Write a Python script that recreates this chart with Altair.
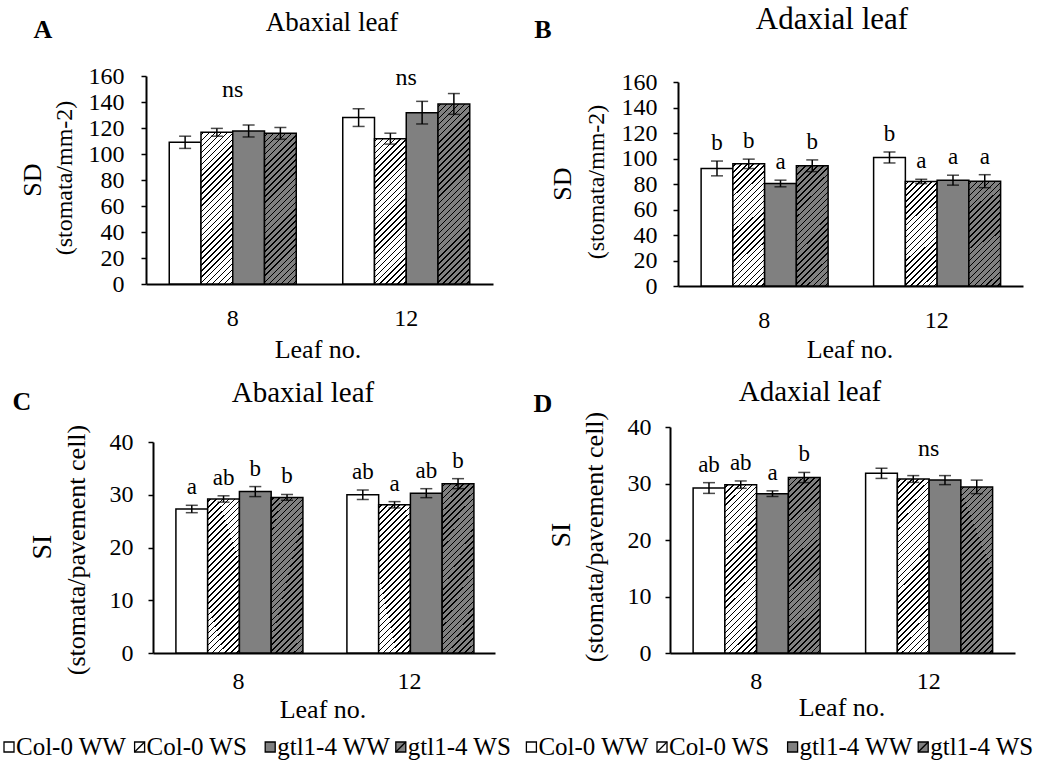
import altair as alt
import pandas as pd

FONT = "Liberation Serif"

leaves = ["8", "12"]
genos = ["Col-0 WW", "Col-0 WS", "gtl1-4 WW", "gtl1-4 WS"]

# values ordered: leaf 8 (4 genotypes), leaf 12 (4 genotypes)
A_mean = [109.0, 116.7, 117.7, 115.9, 128.0, 111.8, 131.8, 138.5]
A_err = [4.7, 3.0, 4.6, 4.5, 6.8, 4.2, 8.7, 8.0]
A_letters = ["", "", "", "", "", "", "", ""]
A_ns_leaf = ["8", "12"]
A_ns_y = [144.0, 153.0]

B_mean = [92.2, 95.8, 80.4, 94.3, 100.8, 82.0, 83.0, 82.2]
B_err = [5.8, 3.7, 2.6, 4.6, 4.3, 1.7, 3.9, 5.1]
B_letters = ["b", "b", "a", "b", "b", "a", "a", "a"]
B_ns_leaf = []
B_ns_y = []

C_mean = [27.3, 29.2, 30.6, 29.5, 30.0, 28.1, 30.3, 32.1]
C_err = [0.7, 0.6, 0.95, 0.55, 0.9, 0.6, 0.85, 0.95]
C_letters = ["a", "ab", "b", "b", "ab", "a", "ab", "b"]
C_ns_leaf = []
C_ns_y = []

D_mean = [29.2, 29.8, 28.2, 31.06, 31.8, 30.8, 30.6, 29.4]
D_err = [0.95, 0.65, 0.5, 0.9, 0.9, 0.6, 0.8, 1.2]
D_letters = ["ab", "ab", "a", "b", "", "", "", ""]
D_ns_leaf = ["12"]
D_ns_y = [34.8]

legend_labels = genos + genos

GRAY = "#808080"
PAD_IN = 0.268


def hatch(w, h, bg, fg, period=6.0, thick=1.5):
    k = (w + h) / (w * w + h * h)
    n = max(1, int(round((w + h) / period)))
    t = thick / period
    stops = [{"offset": 0.0, "color": bg}]
    for j in range(n):
        a = round((j + 0.5 - t / 2) / n, 5)
        b = round((j + 0.5 + t / 2) / n, 5)
        stops += [
            {"offset": a, "color": bg},
            {"offset": a, "color": fg},
            {"offset": b, "color": fg},
            {"offset": b, "color": bg},
        ]
    stops.append({"offset": 1.0, "color": bg})
    return {
        "gradient": "linear",
        "x1": 0, "y1": 0,
        "x2": round(k * w, 5), "y2": round(k * h, 5),
        "stops": stops,
    }


def txt(text, x, y, size, bold=False, angle=0, baseline="alphabetic"):
    kw = dict(fontSize=size, font=FONT, color="black", align="center", baseline=baseline)
    if bold:
        kw["fontWeight"] = "bold"
    if angle:
        kw["angle"] = angle
    return alt.Chart(alt.Data(values=[{}])).mark_text(**kw).encode(
        x=alt.value(x), y=alt.value(y), text=alt.value(text)
    )


def panel(mean, err, letters, ns_leaf, ns_y, ymax, ystep, W, H, ann, xpad, ypad, ox=0, oy=0):
    rows = []
    for i, lf in enumerate(leaves):
        for j, g in enumerate(genos):
            idx = i * 4 + j
            rows.append({"leaf": lf, "geno": g, "mean": mean[idx],
                         "err": err[idx], "letter": letters[idx]})
    df = pd.DataFrame(rows)

    bar_w = (W / 2.0) * (1 - PAD_IN) / 4.0
    conds = []
    for r in rows:
        hpx = r["mean"] / ymax * H
        test = "datum.leaf === '%s' && datum.geno === '%s'" % (r["leaf"], r["geno"])
        if r["geno"] == "Col-0 WS":
            conds.append({"test": test, "value": hatch(bar_w, hpx, "#ffffff", "#000000")})
        elif r["geno"] == "gtl1-4 WS":
            conds.append({"test": test, "value": hatch(bar_w, hpx, GRAY, "#000000")})
    conds.append({"test": "datum.geno === 'gtl1-4 WW'", "value": GRAY})

    xs = alt.Scale(paddingInner=PAD_IN, paddingOuter=PAD_IN / 2, range=[ox, ox + W])
    xaxis = alt.Axis(title=None, labelAngle=0, ticks=False, labelPadding=xpad,
                     labelBaseline="alphabetic", labelFont=FONT, labelFontSize=24,
                     labelColor="black", domainColor="black", domainWidth=2, grid=False)
    ys = alt.Scale(domain=[0, ymax], nice=False, zero=True, range=[oy + H, oy])
    yaxis = alt.Axis(title=None, values=list(range(0, ymax + 1, ystep)), tickSize=5,
                     tickWidth=1.5, tickColor="black", labelPadding=ypad, labelFont=FONT,
                     labelFontSize=24, labelColor="black", domainColor="black",
                     domainWidth=2, grid=False, offset=-ox)
    x_enc = alt.X("leaf:N", sort=leaves, scale=xs, axis=xaxis)
    xo_enc = alt.XOffset("geno:N", sort=genos, scale=alt.Scale(paddingInner=0, paddingOuter=0))

    base = alt.Chart(df).transform_calculate(
        lo="datum.mean - datum.err", hi="datum.mean + datum.err"
    )
    bars = base.mark_bar(stroke="black", strokeWidth=1.5).encode(
        x=x_enc, xOffset=xo_enc,
        y=alt.Y("mean:Q", scale=ys, axis=yaxis),
        fill={"condition": conds, "value": "#ffffff"},
    )
    rule = base.mark_rule(color="black", strokeWidth=1.5).encode(
        x=x_enc, xOffset=xo_enc,
        y=alt.Y("lo:Q", scale=ys, axis=yaxis), y2="hi:Q",
    )
    cap_lo = base.mark_tick(color="black", thickness=1.5, size=12, orient="horizontal").encode(
        x=x_enc, xOffset=xo_enc, y=alt.Y("lo:Q", scale=ys, axis=yaxis))
    cap_hi = base.mark_tick(color="black", thickness=1.5, size=12, orient="horizontal").encode(
        x=x_enc, xOffset=xo_enc, y=alt.Y("hi:Q", scale=ys, axis=yaxis))
    lab = base.mark_text(font=FONT, fontSize=23, color="black", baseline="alphabetic",
                         dy=-11).encode(
        x=x_enc, xOffset=xo_enc, y=alt.Y("hi:Q", scale=ys, axis=yaxis), text="letter:N")
    layers = [bars, rule, cap_lo, cap_hi, lab]
    if ns_leaf:
        nsdf = pd.DataFrame({"leaf": ns_leaf, "y": ns_y, "t": ["ns"] * len(ns_leaf)})
        layers.append(alt.Chart(nsdf).mark_text(font=FONT, fontSize=24, color="black",
                                                baseline="alphabetic").encode(
            x=x_enc, y=alt.Y("y:Q", scale=ys, axis=yaxis), text="t:N"))
    for a in ann:
        a = list(a)
        a[1] = a[1] + ox
        a[2] = a[2] + oy
        layers.append(txt(*a))
    return alt.layer(*layers).properties(width=W + ox, height=H + oy)


A = panel(A_mean, A_err, A_letters, A_ns_leaf, A_ns_y, 160, 20, 347, 208, [
    ("A", -103, -38, 26, True),
    ("Abaxial leaf", 186, -45, 27),
    ("SD", -113, 104, 26, False, 270, "middle"),
    ("(stomata/mm-2)", -81, 102, 24, False, 270, "middle"),
    ("Leaf no.", 172, 208 + 74, 26),
], 41, 17)

B = panel(B_mean, B_err, B_letters, B_ns_leaf, B_ns_y, 160, 20, 345, 204, [
    ("B", -135, -44, 26, True),
    ("Adaxial leaf", 154, -53, 31),
    ("SD", -115, 102, 26, False, 270, "middle"),
    ("(stomata/mm-2)", -81, 100, 24, False, 270, "middle"),
    ("Leaf no.", 172, 204 + 72, 26),
], 41, 16, ox=8, oy=6)

C = panel(C_mean, C_err, C_letters, C_ns_leaf, C_ns_y, 40, 10, 342, 211, [
    ("C", -131, -32, 26, True),
    ("Abaxial leaf", 150, -40, 29),
    ("SI", -110, 105, 28, False, 270, "middle"),
    ("(stomata/pavement cell)", -76, 108, 26, False, 270, "middle"),
    ("Leaf no.", 170, 211 + 65, 26),
], 35, 15, ox=7, oy=15)

D = panel(D_mean, D_err, D_letters, D_ns_leaf, D_ns_y, 40, 10, 345, 226, [
    ("D", -127, -15, 26, True),
    ("Adaxial leaf", 140, -26, 29),
    ("SI", -108, 108, 28, False, 270, "middle"),
    ("(stomata/pavement cell)", -75, 110, 26, False, 270, "middle"),
    ("Leaf no.", 172, 226 + 63, 26),
], 35, 14)

# legend (drawn just below panel C's column)
leg_df = pd.DataFrame({
    "i": list(range(len(legend_labels))),
    "label": legend_labels,
    "hatched": [g.endswith("WS") for g in legend_labels],
})
sym_conds = [{"test": "datum.label === 'gtl1-4 WW' || datum.label === 'gtl1-4 WS'",
              "value": GRAY}]

LEG_Y = -47
LEG_STEP = 130.6
leg_x = alt.X("i:O", scale=alt.Scale(type="point", range=[-137, -137 + 7 * LEG_STEP],
                                     padding=0), axis=None)
leg_sym = alt.Chart(leg_df).mark_point(shape="square", filled=True, size=100, stroke="black",
                                       strokeWidth=1.3, opacity=1).encode(
    x=leg_x, y=alt.value(LEG_Y), fill={"condition": sym_conds, "value": "#ffffff"})
leg_diag = alt.Chart(leg_df).transform_filter("datum.hatched").mark_point(
    shape="M -1 1 L 1 -1", filled=False, size=100, stroke="black", strokeWidth=1.3,
    opacity=1).encode(x=leg_x, y=alt.value(LEG_Y))
leg_txt = alt.Chart(leg_df).mark_text(font=FONT, fontSize=25, color="black", align="left",
                                      baseline="middle", dx=7).encode(
    x=leg_x, y=alt.value(LEG_Y), text="label:N")
legend = alt.layer(leg_sym, leg_diag, leg_txt).properties(width=300, height=1)

chart = alt.concat(
    A, B, C, D, legend, columns=2, bounds="flush",
    spacing={"row": 141, "column": 175},
    padding={"left": 1, "top": 4, "right": 5, "bottom": 5},
).configure(font=FONT, view=alt.ViewConfig(stroke=None))

chart.save("out.html", embed_options={"renderer": "svg", "actions": False})
